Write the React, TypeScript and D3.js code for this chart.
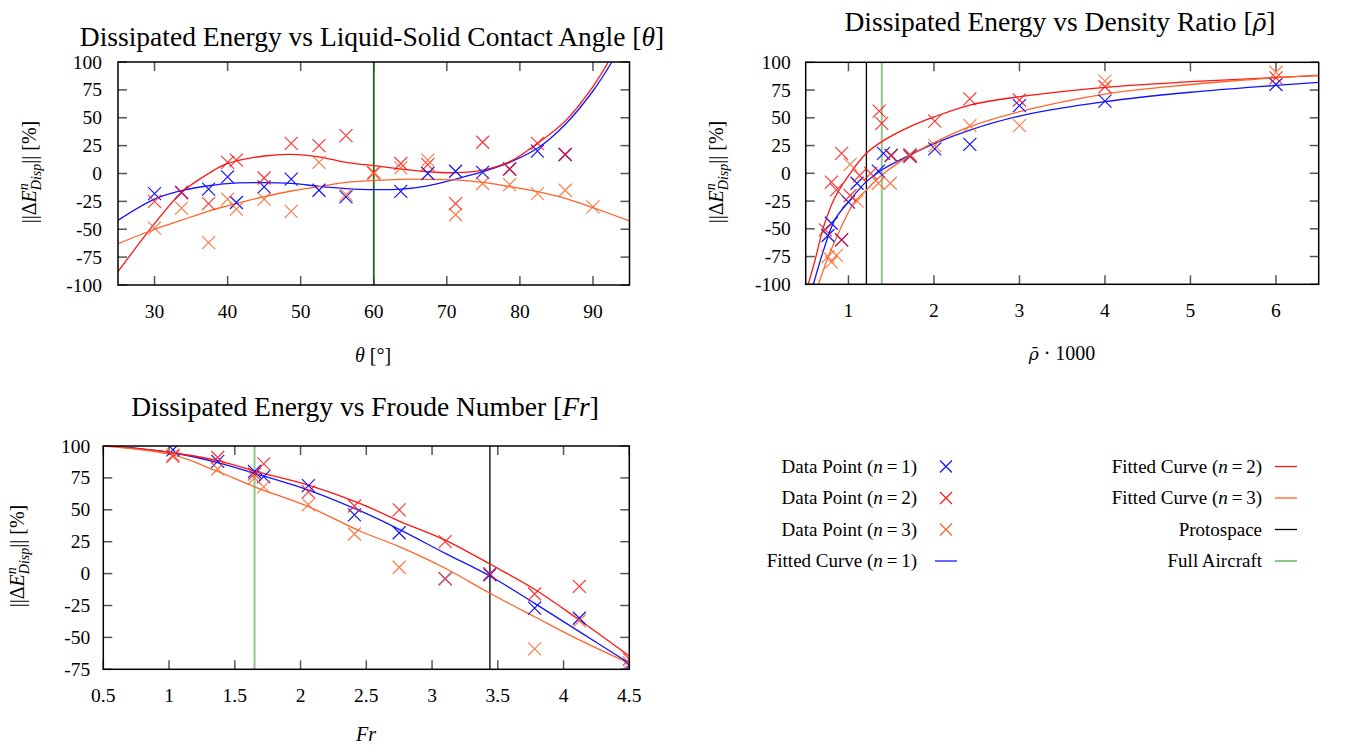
import React from 'react';
import * as d3 from 'd3';

type P = [number, number];

const BLUE = '#1414ff';
const RED = '#ff1414';
const ORANGE = '#ff6428';
const GREEN = '#2e9a2e';
const FONT = '"Liberation Serif", "DejaVu Serif", serif';

// ---------- Panel 1: contact angle ----------
const thetaN1: P[] = [[30,-18],[33.7,-17],[37.4,-14],[40,-3],[41.2,-26],[45,-12],[48.7,-5],[52.5,-15],[56.2,-21],[63.7,-16],[67.4,0],[71.2,2],[74.9,1],[78.6,4],[82.4,20],[86.2,17]];
const thetaN2: P[] = [[30,-25],[33.7,-17],[37.4,-27],[40,10],[41.2,12],[45,-4],[48.7,27],[52.5,25],[56.2,34],[60,1],[63.7,9],[67.4,8],[71.2,-27],[74.9,28],[78.6,4],[82.4,27],[86.2,17]];
const thetaN3: P[] = [[30,-49],[33.7,-31],[37.4,-62],[40,-23],[41.2,-32],[45,-23],[48.7,-34],[52.5,10],[56.2,-19],[60,0],[63.7,5],[67.4,12],[71.2,-37],[74.9,-9],[78.6,-10],[82.4,-18],[86.2,-15],[90,-30]];
const thetaFit1: P[] = [[25,-42],[30,-23],[33.7,-15.4],[37.4,-11],[40,-9],[45,-8.2],[48.7,-8.8],[52.5,-11.5],[56.2,-13.5],[60,-14.5],[63.7,-14],[67.4,-11],[71.2,-5],[74.9,1.6],[78.6,10],[82.4,22.6],[86.2,44],[90,74],[92.6,100]];
const thetaFit2: P[] = [[25,-88],[30,-45],[33.7,-17],[37.4,0],[40,9],[45,15.7],[48.7,17.2],[52.5,15],[56.2,10],[60,7],[63.7,4],[67.4,1.6],[71.2,0.7],[74.9,3],[78.6,10.6],[82.4,27],[86.2,47],[90,78],[92.1,100]];
const thetaFit3: P[] = [[25,-63],[30,-50],[33.7,-41.8],[37.4,-33.7],[40,-29],[45,-20.8],[48.7,-15.7],[52.5,-11.8],[56.2,-8],[60,-6.2],[63.7,-5.2],[67.4,-5.2],[71.2,-5.8],[74.9,-8],[78.6,-11.8],[82.4,-16.3],[86.2,-22.3],[90,-30.7],[95,-42.4]];
const thetaTicks = [30, 40, 50, 60, 70, 80, 90];
const thetaProto = 60;
const thetaFull = 60;

// ---------- Panel 2: density ratio ----------
const rhoN1: P[] = [[0.76,-56],[0.8,-45],[0.92,-60],[1.0,-26],[1.1,-9],[1.35,2],[1.41,18],[1.5,16],[1.72,16],[2.01,22],[2.42,26],[3.0,61],[4.0,65],[6.0,80]];
const rhoN2: P[] = [[0.73,-51],[0.8,-8],[0.86,-15],[0.92,18],[0.92,-60],[1.02,-20],[1.13,-2],[1.26,0],[1.36,56],[1.39,45],[1.5,16],[1.72,15],[2.01,47],[2.42,67],[3.0,66],[4.0,78],[6.0,86]];
const rhoN3: P[] = [[0.76,-75],[0.8,-80],[0.86,-74],[1.02,8],[1.1,-25],[1.35,-9],[1.49,-9],[1.72,17],[2.01,25],[2.42,43],[3.0,43],[4.0,83],[6.0,91]];
const rhoFit1: P[] = [[0.59,-100],[0.71,-69],[0.84,-42],[1.02,-24],[1.21,-7.5],[1.39,3],[1.72,16.5],[2.01,27],[2.42,39],[3.0,51.6],[4.0,64.5],[5.0,73],[5.8,78],[6.5,82]];
const rhoFit2: P[] = [[0.53,-100],[0.61,-78],[0.71,-48],[0.84,-22],[1.02,0],[1.21,18],[1.39,28.5],[1.72,42],[2.01,51],[2.42,61.5],[3.0,69],[4.0,77.5],[5.0,82.5],[5.8,85.6],[6.5,88]];
const rhoFit3: P[] = [[0.65,-100],[0.75,-78],[0.9,-51],[1.06,-27],[1.21,-15],[1.39,-1.5],[1.76,18],[2.01,28],[2.42,42],[3.0,55.5],[4.0,71.4],[5.0,80],[5.8,85],[6.5,88.5]];
const rhoTicks = [1, 2, 3, 4, 5, 6];
const rhoProto = 1.21;
const rhoFull = 1.39;

// ---------- Panel 3: Froude number ----------
const frN1: P[] = [[1.03,97],[1.37,88],[1.65,80],[1.72,76],[2.06,69],[2.41,46],[2.75,32],[3.1,-4],[3.44,-1],[3.78,-27],[4.12,-35],[4.5,-72]];
const frN2: P[] = [[1.03,92],[1.37,91],[1.65,78],[1.72,86],[2.06,64],[2.41,53],[2.75,50],[3.1,25],[3.44,0],[3.78,-16],[4.12,-10],[4.5,-67]];
const frN3: P[] = [[1.03,93],[1.37,82],[1.65,75],[1.72,68],[2.06,54],[2.41,31],[2.75,5],[3.1,-4],[3.78,-59],[4.12,-37],[4.5,-70]];
const frFit1: P[] = [[0.5,100.5],[1.03,94.7],[1.37,87],[1.65,78.6],[2.06,65.5],[2.45,49.3],[2.75,34.7],[3.1,15.9],[3.44,-1.9],[3.78,-23.3],[4.12,-45.5],[4.5,-70.3]];
const frFit2: P[] = [[0.5,100.5],[1.03,94.7],[1.37,88.5],[1.65,80.4],[2.06,69.4],[2.45,55.1],[2.75,41.2],[3.1,26.3],[3.44,7.5],[3.78,-12.3],[4.12,-36.4],[4.5,-64.6]];
const frFit3: P[] = [[0.5,100],[1.03,93],[1.37,80],[1.65,68],[2.06,52.4],[2.45,33.4],[2.75,21.1],[3.1,4.2],[3.44,-15.4],[3.78,-33.8],[4.12,-52],[4.5,-70.3]];
const frTicks = [0.5, 1, 1.5, 2, 2.5, 3, 3.5, 4, 4.5];
const frProto = 3.44;
const frFull = 1.65;

const yTicksA = [-100, -75, -50, -25, 0, 25, 50, 75, 100];
const yTicksB = [-75, -50, -25, 0, 25, 50, 75, 100];

type Box = { l: number; r: number; t: number; b: number };

const crossPath = (x: number, y: number, s = 6.5) =>
  `M${x - s},${y - s}L${x + s},${y + s}M${x - s},${y + s}L${x + s},${y - s}`;

function YLabel({ x, y }: { x: number; y: number }) {
  return (
    <text transform={`translate(${x},${y}) rotate(-90)`} textAnchor="middle" fontFamily={FONT} fontSize={20}>
      <tspan>||Δ</tspan>
      <tspan fontStyle="italic">E</tspan>
      <tspan fontStyle="italic" fontSize={14} dy={-8}>n</tspan>
      <tspan fontStyle="italic" fontSize={14} dx={-7} dy={13}>Disp</tspan>
      <tspan dy={-5}>|| [%]</tspan>
    </text>
  );
}

function Panel(props: {
  id: string; box: Box; xd: [number, number]; yd: [number, number];
  xt: number[]; yt: number[]; labGap: number;
  n1: P[]; n2: P[]; n3: P[]; f1: P[]; f2: P[]; f3: P[];
  proto: number; full: number;
}) {
  const { id, box, xd, yd, xt, yt, labGap } = props;
  const x = d3.scaleLinear().domain(xd).range([box.l, box.r]);
  const y = d3.scaleLinear().domain(yd).range([box.b, box.t]);
  const line = d3.line<P>().x(d => x(d[0])).y(d => y(d[1])).curve(d3.curveCatmullRom.alpha(0.5));
  const tl = 9;
  const tickCol = '#555';
  return (
    <g>
      <defs>
        <clipPath id={`clip-${id}`}>
          <rect x={box.l} y={box.t} width={box.r - box.l} height={box.b - box.t} />
        </clipPath>
      </defs>
      {xt.map(v => (
        <g key={'xt' + v}>
          <line x1={x(v)} x2={x(v)} y1={box.b} y2={box.b - tl} stroke={tickCol} strokeWidth={1.5} />
          <line x1={x(v)} x2={x(v)} y1={box.t} y2={box.t + tl} stroke={tickCol} strokeWidth={1.5} />
          <text x={x(v)} y={box.b + 33} textAnchor="middle" fontFamily={FONT} fontSize={19.5}>{String(v)}</text>
        </g>
      ))}
      {yt.map(v => (
        <g key={'yt' + v}>
          <line x1={box.l} x2={box.l + tl} y1={y(v)} y2={y(v)} stroke={tickCol} strokeWidth={1.5} />
          <line x1={box.r} x2={box.r - tl} y1={y(v)} y2={y(v)} stroke={tickCol} strokeWidth={1.5} />
          <text x={box.l - labGap} y={y(v) + 6.5} textAnchor="end" fontFamily={FONT} fontSize={19.5}>{String(v)}</text>
        </g>
      ))}
      <g clipPath={`url(#clip-${id})`}>
        <line x1={x(props.proto)} x2={x(props.proto)} y1={box.t} y2={box.b} stroke="#000" strokeWidth={1.3} />
        <line x1={x(props.full)} x2={x(props.full)} y1={box.t} y2={box.b} stroke={GREEN} strokeOpacity={0.55} strokeWidth={2} />
        <path d={line(props.f1) || ''} fill="none" stroke={BLUE} strokeWidth={1.3} />
        <path d={line(props.f2) || ''} fill="none" stroke={RED} strokeWidth={1.3} />
        <path d={line(props.f3) || ''} fill="none" stroke={ORANGE} strokeWidth={1.3} />
        {props.n1.map((d, i) => <path key={'a' + i} d={crossPath(x(d[0]), y(d[1]))} stroke={BLUE} strokeWidth={1.2} fill="none" />)}
        {props.n2.map((d, i) => <path key={'b' + i} d={crossPath(x(d[0]), y(d[1]))} stroke={RED} strokeOpacity={0.85} strokeWidth={1.2} fill="none" />)}
        {props.n3.map((d, i) => <path key={'c' + i} d={crossPath(x(d[0]), y(d[1]))} stroke={ORANGE} strokeOpacity={0.85} strokeWidth={1.2} fill="none" />)}
      </g>
      <rect x={box.l} y={box.t} width={box.r - box.l} height={box.b - box.t} fill="none" stroke="#000" strokeWidth={1.5} />
    </g>
  );
}

function N({ n }: { n: number }) {
  return (
    <>
      <tspan> (</tspan>
      <tspan fontStyle="italic">n</tspan>
      <tspan>{'\u2009=\u2009'}{n})</tspan>
    </>
  );
}

const RhoBar = () => (
  <tspan fontFamily='"DejaVu Serif", serif' fontStyle="italic" fontSize="0.85em">{'\u03C1\u0304'}</tspan>
);

export default function App() {
  const rows = [466.5, 498, 529.5, 561];
  const lf = { fontFamily: FONT, fontSize: 19, textAnchor: 'end' as const };
  const tf = { fontFamily: FONT, fontSize: 27.5, textAnchor: 'middle' as const };
  return (
    <svg width={1351} height={746} style={{ position: 'absolute', left: 0, top: 0, background: '#fff' }}>
      <rect width={1351} height={746} fill="#fff" />
      {/* Titles */}
      <text x={372} y={46} {...tf}>
        Dissipated Energy vs Liquid-Solid Contact Angle [<tspan fontStyle="italic">θ</tspan>]
      </text>
      <text x={1060} y={31} {...tf}>
        Dissipated Energy vs Density Ratio [<RhoBar />]
      </text>
      <text x={365} y={416} {...tf}>
        Dissipated Energy vs Froude Number [<tspan fontStyle="italic">Fr</tspan>]
      </text>

      <Panel id="p1" box={{ l: 118, r: 629.5, t: 62, b: 285 }} xd={[25, 95]} yd={[-100, 100]} xt={thetaTicks} yt={yTicksA} labGap={16}
        n1={thetaN1} n2={thetaN2} n3={thetaN3} f1={thetaFit1} f2={thetaFit2} f3={thetaFit3} proto={thetaProto} full={thetaFull} />
      <Panel id="p2" box={{ l: 805.7, r: 1318.7, t: 62.3, b: 284.3 }} xd={[0.5, 6.5]} yd={[-100, 100]} xt={rhoTicks} yt={yTicksA} labGap={15}
        n1={rhoN1} n2={rhoN2} n3={rhoN3} f1={rhoFit1} f2={rhoFit2} f3={rhoFit3} proto={rhoProto} full={rhoFull} />
      <Panel id="p3" box={{ l: 103.3, r: 629.3, t: 446, b: 669.3 }} xd={[0.5, 4.5]} yd={[-75, 100]} xt={frTicks} yt={yTicksB} labGap={13}
        n1={frN1} n2={frN2} n3={frN3} f1={frFit1} f2={frFit2} f3={frFit3} proto={frProto} full={frFull} />

      {/* Axis labels */}
      <YLabel x={36} y={172} />
      <YLabel x={723} y={172} />
      <YLabel x={24} y={556} />
      <text x={373} y={362} textAnchor="middle" fontFamily={FONT} fontSize={20}>
        <tspan fontStyle="italic">θ</tspan> [°]
      </text>
      <text x={1062} y={360} textAnchor="middle" fontFamily={FONT} fontSize={20}>
        <RhoBar /> · 1000
      </text>
      <text x={366} y={741} textAnchor="middle" fontFamily={FONT} fontSize={20} fontStyle="italic">Fr</text>

      {/* Legend column 1 */}
      <text x={917} y={rows[0] + 6} {...lf}>Data Point<N n={1} /></text>
      <path d={crossPath(946, rows[0], 6)} stroke={BLUE} strokeWidth={1.2} fill="none" />
      <text x={917} y={rows[1] + 6} {...lf}>Data Point<N n={2} /></text>
      <path d={crossPath(946, rows[1], 6)} stroke={RED} strokeWidth={1.2} fill="none" />
      <text x={917} y={rows[2] + 6} {...lf}>Data Point<N n={3} /></text>
      <path d={crossPath(946, rows[2], 6)} stroke={ORANGE} strokeWidth={1.2} fill="none" />
      <text x={917} y={rows[3] + 6} {...lf}>Fitted Curve<N n={1} /></text>
      <line x1={935} x2={957} y1={rows[3]} y2={rows[3]} stroke={BLUE} strokeWidth={1.3} />

      {/* Legend column 2 */}
      <text x={1262} y={rows[0] + 6} {...lf}>Fitted Curve<N n={2} /></text>
      <line x1={1275} x2={1297} y1={rows[0]} y2={rows[0]} stroke={RED} strokeWidth={1.3} />
      <text x={1262} y={rows[1] + 6} {...lf}>Fitted Curve<N n={3} /></text>
      <line x1={1275} x2={1297} y1={rows[1]} y2={rows[1]} stroke={ORANGE} strokeWidth={1.3} />
      <text x={1262} y={rows[2] + 6} {...lf}>Protospace</text>
      <line x1={1275} x2={1297} y1={rows[2]} y2={rows[2]} stroke="#000" strokeWidth={1.3} />
      <text x={1262} y={rows[3] + 6} {...lf}>Full Aircraft</text>
      <line x1={1275} x2={1297} y1={rows[3]} y2={rows[3]} stroke={GREEN} strokeOpacity={0.55} strokeWidth={2} />
    </svg>
  );
}
